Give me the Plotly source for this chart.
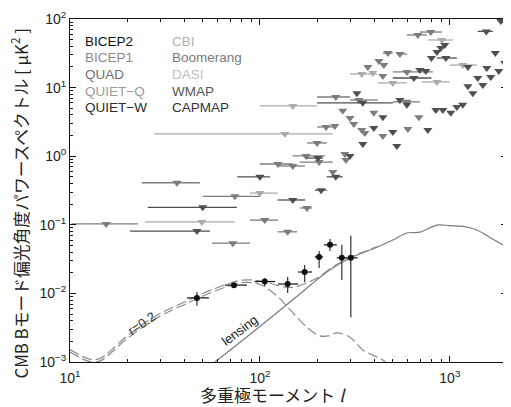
import numpy as np
import plotly.graph_objects as go

# ---------------- data ----------------
# BICEP2 band powers
bicep2_l = [46.6, 73, 106, 140, 172, 205, 234, 270, 301]
bicep2_v = [0.0086, 0.0132, 0.0149, 0.0137, 0.0205, 0.034, 0.051, 0.033, 0.033]
bicep2_lmin = [41.3, 65.5, 94, 124.5, 159, 194, 217, 254, 284]
bicep2_lmax = [53.9, 85.5, 120, 159, 188, 215, 254, 284, 327]
bicep2_vmin = [0.0066, 0.012, 0.0128, 0.0101, 0.0146, 0.0234, 0.0415, 0.0157, 0.0045]
bicep2_vmax = [0.0105, 0.0142, 0.0168, 0.0173, 0.026, 0.0415, 0.062, 0.051, 0.069]

# upper limits, dark grey (WMAP / QUIET-W / CAPMAP)
dark_l = [1855, 1556, 940, 897, 855, 800, 953, 695, 748, 647, 1245, 1565, 1811, 1945,
          1403, 1643, 1245, 1492, 1322, 1736, 324, 348, 546, 594, 444, 844, 919, 1012,
          1089, 1169, 398, 501, 766, 348, 526, 202, 298, 251, 100, 210, 149, 50, 46.6]
dark_v = [93.5, 66, 41.8, 37.8, 33, 27, 27, 18.1, 17.5, 13.8, 20, 19.3, 17.5, 22.9,
          13.8, 14.3, 10.5, 10.9, 8.3, 31.9, 8.3, 6.0, 6.6, 5.6, 3.7, 4.7, 4.7, 4.3,
          5.2, 5.6, 2.58, 2.25, 2.41, 1.51, 1.41, 0.94, 1.01, 0.50, 0.50, 0.32, 0.23, 0.18, 0.081]
dark_lmin = [1855, 1403, 940, 897, 855, 800, 855, 695, 748, 501, 1245, 1565, 1811, 1945,
             1403, 1643, 1245, 1492, 1322, 1736, 324, 200, 546, 594, 444, 844, 919, 1012,
             1089, 1169, 398, 501, 766, 348, 526, 175, 298, 225, 76, 195, 124, 25.7, 20.7]
dark_lmax = [1855, 1683, 940, 897, 855, 800, 1089, 695, 748, 800, 1245, 1565, 1811, 1945,
             1403, 1643, 1245, 1492, 1322, 1736, 324, 501, 546, 594, 444, 844, 919, 1012,
             1089, 1169, 398, 501, 766, 348, 526, 215, 298, 273, 113, 225, 173, 75.7, 54.6]

# upper limits, mid grey (QUAD / BICEP1 / Boomerang)
mid_l = [794, 679, 472, 546, 370, 423, 449, 444, 594, 251, 332, 594, 273, 398, 298, 312,
         687, 223, 248, 344, 357, 444, 601, 200, 175, 205, 280, 284, 124.5, 149, 242,
         36.6, 73.8, 177, 15.5, 72, 140, 106]
mid_v = [64.6, 58.5, 31.9, 30.9, 20, 24.4, 21.3, 14.8, 16.9, 7.3, 6.6, 6.2, 4.6, 4.3, 3.6, 2.94,
         3.7, 2.67, 2.75, 2.41, 2.18, 1.97, 2.49, 1.56, 1.01, 0.82, 1.08, 0.88, 0.77, 0.72, 0.59,
         0.41, 0.26, 0.176, 0.103, 0.054, 0.079, 0.117]
mid_lmin = [695, 594, 444, 526, 370, 423, 449, 444, 501, 200, 298, 501, 273, 398, 298, 312,
            687, 200, 248, 344, 357, 444, 601, 177, 149, 162, 280, 284, 100, 124.5, 242,
            23.9, 50, 162, 10.2, 55.9, 124, 88.6]
mid_lmax = [908, 757, 501, 594, 370, 423, 449, 444, 815, 298, 418, 695, 273, 398, 298, 312,
            687, 242, 248, 344, 357, 444, 601, 225, 220, 242, 280, 284, 149, 172.6, 242,
            48.3, 100, 188, 22.8, 88.6, 157, 124.5]

# upper limits, light grey (CBI / DASI / QUIET-Q)
light_l = [908, 344, 393, 501, 855, 1169, 149, 135.5, 100, 49.5]
light_v = [49.4, 15.8, 16.3, 11.7, 12.1, 21.3, 5.4, 2.11, 0.29, 0.11]
light_lmin = [766, 298, 393, 418, 713, 1000, 100, 27.7, 88.6, 24.8]
light_lmax = [1037, 413, 393, 594, 1000, 1388, 200, 242, 124.5, 73.8]

# theory curves
tensor_l = [10, 12.7, 14.4, 20, 28.7, 41, 59, 81, 100, 123, 144, 177, 207, 230, 254, 298, 348, 393, 444, 470]
tensor_v = [0.0014, 0.00101, 0.00104, 0.0022, 0.0044, 0.0071, 0.0110, 0.0144, 0.0135, 0.0092,
            0.0058, 0.0032, 0.0024, 0.0024, 0.00265, 0.0023, 0.0015, 0.00126, 0.00107, 0.00092]
total_l = [10, 12.7, 14.4, 20, 28.7, 41, 59, 81, 104, 125, 145, 162, 200, 242, 300, 350, 413]
total_v = [0.00152, 0.0011, 0.00113, 0.0024, 0.0048, 0.0077, 0.012, 0.0156, 0.0150, 0.0130,
           0.0122, 0.0130, 0.0168, 0.0243, 0.034, 0.040, 0.048]
lensing_l = [58, 100, 150, 233, 301, 413, 501, 594, 695, 855, 1000, 1200, 1387, 1622, 1900, 2000]
lensing_v = [0.001, 0.0033, 0.0082, 0.0219, 0.033, 0.047, 0.060, 0.076, 0.078, 0.099, 0.097,
             0.094, 0.084, 0.066, 0.051, 0.046]

legend_col1 = ["BICEP2", "BICEP1", "QUAD", "QUIET−Q", "QUIET−W"]
legend_col1_colors = ["#111111", "#8a8a8a", "#6e6e6e", "#9a9a9a", "#2a2a2a"]
legend_col2 = ["CBI", "Boomerang", "DASI", "WMAP", "CAPMAP"]
legend_col2_colors = ["#b0b0b0", "#7a7a7a", "#c0c0c0", "#555555", "#333333"]

x_ticks = [10, 100, 1000]
x_ticktext = ["10<sup>1</sup>", "10<sup>2</sup>", "10<sup>3</sup>"]
y_ticks = [1e-3, 1e-2, 1e-1, 1, 10, 100]
y_ticktext = ["10<sup>−3</sup>", "10<sup>−2</sup>", "10<sup>−1</sup>", "10<sup>0</sup>",
              "10<sup>1</sup>", "10<sup>2</sup>"]

# ---------------- figure ----------------
fig = go.Figure()


def limits(name, l, v, lmin, lmax, color):
    l = np.array(l, float)
    fig.add_trace(go.Scatter(
        x=l, y=v, mode="markers", name=name,
        marker=dict(symbol="triangle-down", size=8, color=color, line=dict(width=0)),
        error_x=dict(type="data", symmetric=False,
                     array=np.array(lmax, float) - l, arrayminus=l - np.array(lmin, float),
                     color=color, thickness=1.3, width=0),
        showlegend=False))


limits("light", light_l, light_v, light_lmin, light_lmax, "#ababab")
limits("mid", mid_l, mid_v, mid_lmin, mid_lmax, "#7c7c7c")
limits("dark", dark_l, dark_v, dark_lmin, dark_lmax, "#4f4f4f")

fig.add_trace(go.Scatter(x=lensing_l, y=lensing_v, mode="lines", line=dict(color="#7a7a7a", width=1.2, shape="spline"),
                         showlegend=False))
fig.add_trace(go.Scatter(x=tensor_l, y=tensor_v, mode="lines",
                         line=dict(color="#8a8a8a", width=1.2, dash="10px,4px", shape="spline"),
                         showlegend=False))
fig.add_trace(go.Scatter(x=total_l, y=total_v, mode="lines",
                         line=dict(color="#8a8a8a", width=1.2, dash="10px,4px", shape="spline"),
                         showlegend=False))

bl = np.array(bicep2_l, float)
bv = np.array(bicep2_v, float)
fig.add_trace(go.Scatter(
    x=bl, y=bv, mode="markers",
    marker=dict(symbol="circle", size=6, color="#111111"),
    error_x=dict(type="data", symmetric=False, array=np.array(bicep2_lmax) - bl,
                 arrayminus=bl - np.array(bicep2_lmin), color="#111111", thickness=1.2, width=0),
    error_y=dict(type="data", symmetric=False, array=np.array(bicep2_vmax) - bv,
                 arrayminus=bv - np.array(bicep2_vmin), color="#333333", thickness=1.2, width=0),
    showlegend=False))

base_font = dict(family="Liberation Sans, Arial, sans-serif", size=14, color="#222222")
ann = []
for i, (t, c) in enumerate(zip(legend_col1, legend_col1_colors)):
    ann.append(dict(xref="paper", yref="paper", x=0, y=1, xanchor="left", yanchor="middle",
                    xshift=13, yshift=-22 - 16.7 * i, text=t, showarrow=False,
                    font=dict(family="Liberation Sans, Arial, sans-serif", size=13.5, color=c)))
for i, (t, c) in enumerate(zip(legend_col2, legend_col2_colors)):
    ann.append(dict(xref="paper", yref="paper", x=0, y=1, xanchor="left", yanchor="middle",
                    xshift=100, yshift=-22 - 16.7 * i, text=t, showarrow=False,
                    font=dict(family="Liberation Sans, Arial, sans-serif", size=13.5, color=c)))

ann.append(dict(x=np.log10(23.9), y=np.log10(0.0036), text="r=0.2", showarrow=False, textangle=-34,
                font=dict(family="Liberation Sans, Arial, sans-serif", size=13, color="#333333")))
ann.append(dict(x=np.log10(78), y=np.log10(0.0029), text="lensing", showarrow=False, textangle=-37,
                font=dict(family="Liberation Sans, Arial, sans-serif", size=13, color="#222222")))

ann.append(dict(xref="paper", yref="paper", x=0.465, y=0, yanchor="middle", xanchor="center", yshift=-32,
                text="多重極モーメント <i>l</i>", showarrow=False,
                font=dict(family="Noto Sans CJK JP, sans-serif", size=17, color="#222222")))
ann.append(dict(xref="paper", yref="paper", x=0, y=0.5, xanchor="center", yanchor="middle",
                xshift=-51, yshift=-13, textangle=-90,
                text="CMB Bモード偏光角度パワースペクトル [ μK<sup>2</sup> ]", showarrow=False,
                font=dict(family="Noto Sans CJK JP, sans-serif", size=16.8, color="#222222")))

minor_x = [m * 10 ** k for k in (1, 2) for m in range(2, 10)] + [2000]
minor_y = [m * 10.0 ** k for k in (-3, -2, -1, 0, 1) for m in range(2, 10)]

axis_common = dict(showgrid=False, zeroline=False, showline=True, linecolor="#111111", linewidth=1,
                   mirror="ticks", ticks="inside", ticklen=6, tickwidth=1, tickcolor="#111111",
                   tickfont=base_font, automargin=False)

fig.update_xaxes(type="log", range=[1, np.log10(2000)], tickmode="array", tickvals=x_ticks,
                 ticktext=x_ticktext, ticklabelstandoff=3,
                 minor=dict(tickmode="array", tickvals=minor_x, ticks="inside", ticklen=3,
                            tickcolor="#111111", showgrid=False),
                 **axis_common)
fig.update_yaxes(type="log", range=[-3, 2], tickmode="array", tickvals=y_ticks, ticktext=y_ticktext,
                 minor=dict(tickmode="array", tickvals=minor_y, ticks="inside", ticklen=3,
                            tickcolor="#111111", showgrid=False),
                 **axis_common)

# the page body adds an 8px offset; the figure is sized so the plot area lands where the reference has it
fig.update_layout(width=503, height=399, margin=dict(l=62, r=4, t=11, b=45, autoexpand=False),
                  paper_bgcolor="white", plot_bgcolor="white", annotations=ann,
                  showlegend=False)

fig.write_html("out.html")
